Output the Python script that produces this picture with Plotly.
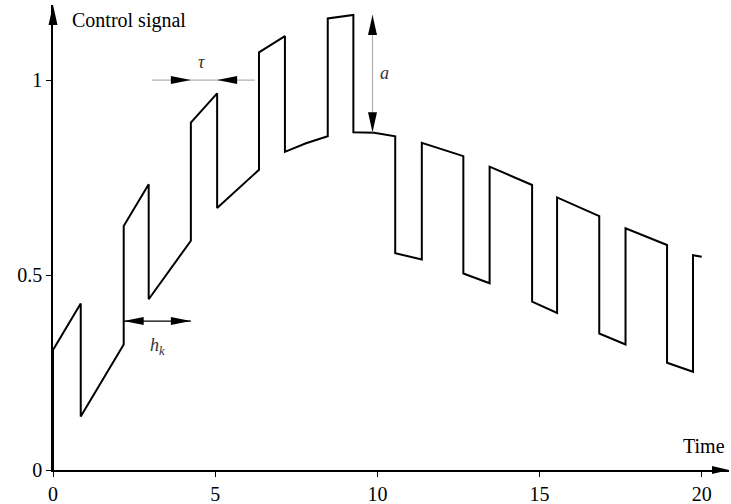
import plotly.graph_objects as go

# waveform: time and control signal (repeated times are the jumps)
t = [0, 0, 0.855, 0.855, 2.18, 2.18, 2.95, 2.95, 4.25, 4.25, 5.06, 5.06,
     6.35, 6.35, 7.15, 7.15, 7.8, 8.47, 8.47, 9.26, 9.26, 9.9, 10.55, 10.55,
     11.37, 11.37, 12.65, 12.65, 13.46, 13.46, 14.77, 14.77, 15.54, 15.54,
     16.84, 16.84, 17.65, 17.65, 18.93, 18.93, 19.73, 19.73, 20.0]
u = [0, 0.308, 0.427, 0.137, 0.322, 0.626, 0.733, 0.438, 0.588, 0.891, 0.966, 0.672,
     0.770, 1.071, 1.113, 0.816, 0.838, 0.856, 1.158, 1.167, 0.866, 0.865, 0.856, 0.556,
     0.540, 0.839, 0.805, 0.504, 0.479, 0.778, 0.731, 0.432, 0.403, 0.699,
     0.651, 0.350, 0.322, 0.620, 0.577, 0.275, 0.252, 0.551, 0.547]

x_ticks = [0, 5, 10, 15, 20]
y_ticks = [0, 0.5, 1]
y_tick_text = ["0", "0.5", "1"]

W, H = 731, 504
ml, mr, mt, mb = 53, 2, 5, 34
x_max = 20.84
y_max = 1.1926
sx = (W - ml - mr) / x_max
sy = (H - mt - mb) / y_max

FONT = "Liberation Serif, Times New Roman, serif"


def head(xt, yt, dx, dy, L=20, Wd=8):
    bx = xt - dx * L / sx
    by = yt - dy * L / sy
    px_, py_ = -dy, dx
    pts = [(xt, yt),
           (bx + px_ * Wd / 2 / sx, by + py_ * Wd / 2 / sy),
           (bx - px_ * Wd / 2 / sx, by - py_ * Wd / 2 / sy)]
    pp = [(x / x_max, y / y_max) for x, y in pts]
    path = "M {},{} L {},{} L {},{} Z".format(*[v for p in pp for v in p])
    return dict(type="path", path=path, xref="paper", yref="paper",
                fillcolor="black", line=dict(width=0), layer="above")


def seg(x0, y0, x1, y1, color, width=1.2):
    return dict(type="line", x0=x0 / x_max, y0=y0 / y_max, x1=x1 / x_max, y1=y1 / y_max,
                xref="paper", yref="paper", line=dict(color=color, width=width), layer="above")


GRAY = "#b0b0b0"
shapes = [
    # tau
    seg(3.05, 1.0, 6.22, 1.0, GRAY),
    head(4.25, 1.0, 1, 0), head(5.06, 1.0, -1, 0),
    # a
    seg(9.85, 1.167, 9.85, 0.866, GRAY),
    head(9.85, 1.167, 0, 1, Wd=9), head(9.85, 0.866, 0, -1, Wd=9),
    # h_k
    seg(2.18, 0.382, 4.25, 0.382, "black"),
    head(2.18, 0.382, -1, 0), head(4.25, 0.382, 1, 0),
    # axis arrows
    head(x_max, 0, 1, 0, L=17, Wd=8),
    head(0, y_max, 0, 1, L=20, Wd=9),
]

fig = go.Figure()
fig.add_trace(go.Scatter(x=t, y=u, mode="lines",
                         line=dict(color="black", width=2), hoverinfo="skip"))

annotations = [
    dict(x=0.515, y=1.154, text="Control signal", xanchor="left", yanchor="middle",
         showarrow=False, font=dict(size=20, family=FONT, color="black")),
    dict(x=20.78, y=0.0616, text="Time", xanchor="right", yanchor="middle",
         showarrow=False, font=dict(size=20, family=FONT, color="black")),
    dict(x=4.59, y=1.046, text="<i>τ</i>", showarrow=False,
         font=dict(size=18, family=FONT, color="#333")),
    dict(x=10.23, y=1.018, text="<i>a</i>", showarrow=False,
         font=dict(size=18, family=FONT, color="#333")),
    dict(x=3.23, y=0.316, text="<i>h</i><sub><i>k</i></sub>", showarrow=False,
         font=dict(size=18, family=FONT, color="#333")),
]

fig.update_layout(
    width=W, height=H,
    margin=dict(l=ml, r=mr, t=mt, b=mb, autoexpand=False),
    paper_bgcolor="white", plot_bgcolor="white",
    showlegend=False,
    shapes=shapes,
    annotations=annotations,
    font=dict(family=FONT, size=20, color="black"),
    xaxis=dict(range=[0, x_max], tickvals=x_ticks, showgrid=False, zeroline=False,
               automargin=False,
               showline=True, linecolor="black", linewidth=1.5,
               ticks="outside", ticklen=5, tickwidth=1.2, tickcolor="black",
               tickfont=dict(size=20, family=FONT, color="black")),
    yaxis=dict(range=[0, y_max], tickvals=y_ticks, ticktext=y_tick_text,
               showgrid=False, zeroline=False, automargin=False,
               showline=True, linecolor="black", linewidth=1.5,
               ticks="outside", ticklen=5, tickwidth=1.2, tickcolor="black",
               tickfont=dict(size=20, family=FONT, color="black")),
)

fig.write_html("out.html",
               config={"displayModeBar": False},
               post_script="document.body.style.margin='0';document.body.style.overflow='hidden';")
